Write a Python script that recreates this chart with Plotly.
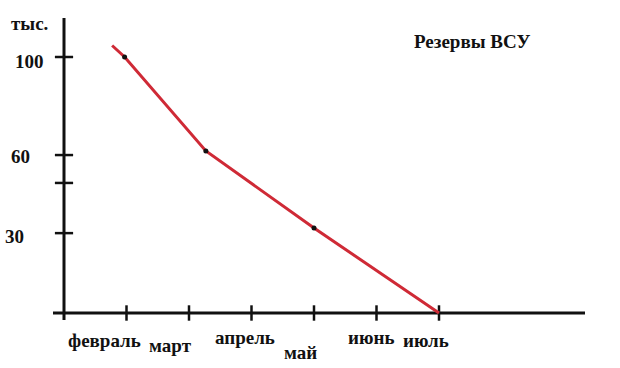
import plotly.graph_objects as go

# ---- data ----
months = ["февраль", "март", "апрель", "май", "июнь", "июль"]
tick_x = [1, 2, 3, 4, 5, 6]                      # x-axis tick marks (month steps)
line_x = [0.77, 0.97, 2.27, 4.0, 6.0]            # reserve line
line_y = [104.5, 100, 63.3, 33.2, 0]
dot_x = [0.97, 2.27, 4.0]
dot_y = [100, 63.3, 33.2]
y_tick_vals = [100, 61.7, 50.8, 31.2]
y_tick_text = ["100", "60", "", "30"]
title_text = "Резервы ВСУ"
unit_text = "тыс."

# ---- layout helpers (pixel geometry of the drawing) ----
W, H = 620, 368
X0_PX, X_STEP = 64, 62.5        # x=0 at 64px, 62.5 px per month
Y0_PX, Y_STEP = 313, 2.56       # y=0 at 313px, 2.56 px per thousand

def dx(px):
    return (px - X0_PX) / X_STEP

def dy(py):
    return (Y0_PX - py) / Y_STEP

FONT = "Liberation Serif"
FS = 19
INK = "#111111"
RED = "#cf2a36"

fig = go.Figure()

# tick marks on x axis
fig.add_trace(go.Scatter(
    x=tick_x, y=[0] * len(tick_x), mode="markers",
    marker=dict(symbol="line-ns", size=11, line=dict(width=2.5, color=INK)),
    hoverinfo="skip", showlegend=False, cliponaxis=False))

# tick marks on y axis
fig.add_trace(go.Scatter(
    x=[0] * len(y_tick_vals), y=y_tick_vals, mode="markers",
    marker=dict(symbol="line-ew", size=13, line=dict(width=2.5, color=INK)),
    hoverinfo="skip", showlegend=False, cliponaxis=False))

# the red line
fig.add_trace(go.Scatter(
    x=line_x, y=line_y, mode="lines",
    line=dict(color=RED, width=3),
    hoverinfo="skip", showlegend=False, cliponaxis=False))

# small black dots
fig.add_trace(go.Scatter(
    x=dot_x, y=dot_y, mode="markers",
    marker=dict(color=INK, size=5),
    hoverinfo="skip", showlegend=False, cliponaxis=False))

shapes = [
    # x axis line
    dict(type="line", xref="x", yref="y", x0=dx(53), x1=dx(585), y0=0, y1=0,
         line=dict(color=INK, width=3), layer="below"),
    # y axis line
    dict(type="line", xref="x", yref="y", x0=0, x1=0, y0=dy(320), y1=dy(18),
         line=dict(color=INK, width=3), layer="below"),
]

annotations = []
# month labels (hand-placed, staggered)
month_label_px = [(104, 340), (170, 345), (245, 337), (300, 352), (371, 337), (426, 340)]
for m, (px, py) in zip(months, month_label_px):
    annotations.append(dict(x=px / W, y=1 - py / H, xref="paper", yref="paper",
                            text=f"<b>{m}</b>", showarrow=False,
                            xanchor="center", yanchor="middle",
                            font=dict(family=FONT, size=FS, color=INK)))

# y tick labels
y_label_px = [(29, 62), (20, 157), (None, None), (14, 236)]
for t, (px, py) in zip(y_tick_text, y_label_px):
    if not t:
        continue
    annotations.append(dict(x=px / W, y=1 - py / H, xref="paper", yref="paper",
                            text=f"<b>{t}</b>", showarrow=False,
                            xanchor="center", yanchor="middle",
                            font=dict(family=FONT, size=FS, color=INK)))

# unit label and title
annotations.append(dict(x=29 / W, y=1 - 23 / H, xref="paper", yref="paper",
                        text=f"<b>{unit_text}</b>", showarrow=False,
                        xanchor="center", yanchor="middle",
                        font=dict(family=FONT, size=FS, color=INK)))
annotations.append(dict(x=472 / W, y=1 - 42 / H, xref="paper", yref="paper",
                        text=f"<b>{title_text}</b>", showarrow=False,
                        xanchor="center", yanchor="middle",
                        font=dict(family=FONT, size=FS, color=INK)))

fig.update_layout(
    width=W, height=H,
    margin=dict(l=0, r=0, t=0, b=0),
    paper_bgcolor="white", plot_bgcolor="white",
    xaxis=dict(range=[dx(0), dx(W)], visible=False, fixedrange=True),
    yaxis=dict(range=[dy(H), dy(0)], visible=False, fixedrange=True),
    shapes=shapes, annotations=annotations,
)

fig.write_html("out.html")
